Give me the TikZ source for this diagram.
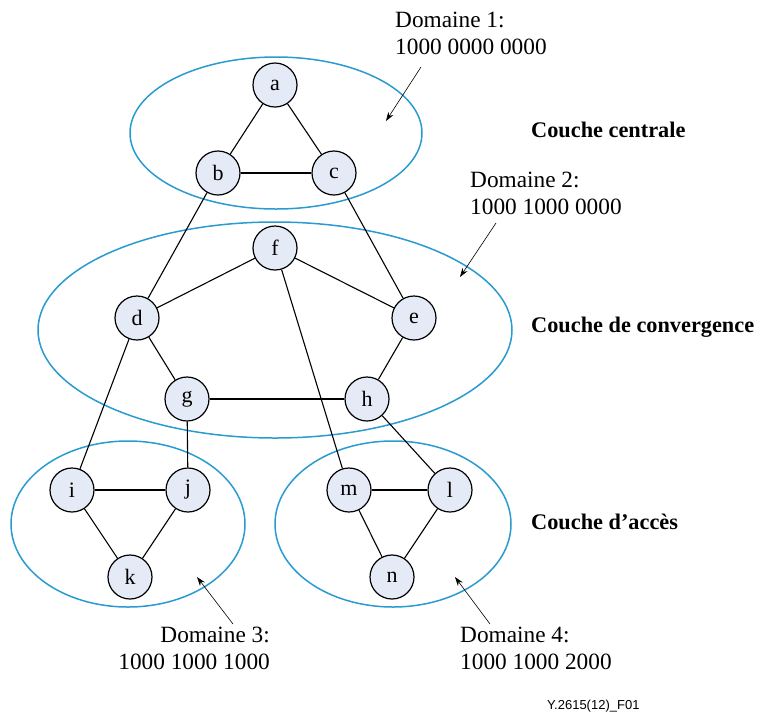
\documentclass[tikz,border=0pt]{standalone}
\usepackage{fontspec}
\setmainfont{Liberation Serif}
\setsansfont{Liberation Sans}
\usetikzlibrary{arrows.meta}
\definecolor{domline}{HTML}{2A9BD1}
\definecolor{nodefill}{HTML}{E5EBF6}
\tikzset{
  vertex/.style={circle, draw=black, line width=1.2pt, fill=nodefill,
    minimum size=44pt, inner sep=0pt, font=\fontsize{22}{26}\selectfont},
  zone/.style={draw=domline, line width=1.5pt, fill=white},
  link/.style={draw=black, line width=1.1pt},
  pointer/.style={draw=black, line width=0.6pt, -{Stealth[length=9pt,width=6pt]}},
  caption/.style={font=\fontsize{23.3}{27}\selectfont, inner sep=0pt},
  layer/.style={font=\bfseries\fontsize{22.3}{26}\selectfont, anchor=west, inner sep=0pt},
}
\begin{document}
\begin{tikzpicture}[x=1pt,y=-1pt]
\useasboundingbox (0,0) rectangle (761,716);

% domain outlines
\draw[zone] (276,133) ellipse [x radius=146, y radius=76];
\draw[zone] (275,330) ellipse [x radius=237, y radius=108];
\draw[zone] (128,524) ellipse [x radius=117, y radius=83];
\draw[zone] (393,524) ellipse [x radius=118, y radius=83];

% routers
\node[vertex] (a) at (275,85) {a};
\node[vertex] (b) at (218,173) {b};
\node[vertex] (c) at (334,173) {c};
\node[vertex] (f) at (275,248) {f};
\node[vertex] (d) at (137,318) {d};
\node[vertex] (e) at (414,318) {e};
\node[vertex] (g) at (187,399) {g};
\node[vertex] (h) at (367,399) {h};
\node[vertex] (i) at (72,490) {i};
\node[vertex] (j) at (188,490) {j};
\node[vertex] (k) at (130,577) {k};
\node[vertex] (m) at (349,490) {m};
\node[vertex] (l) at (450,490) {l};
\node[vertex] (n) at (392,577) {n};

% links
\draw[link] (a) -- (b);
\draw[link] (a) -- (c);
\draw[link] (b) -- (c);
\draw[link] (b) -- (d);
\draw[link] (c) -- (e);
\draw[link] (d) -- (f);
\draw[link] (f) -- (e);
\draw[link] (d) -- (g);
\draw[link] (e) -- (h);
\draw[link] (g) -- (h);
\draw[link] (d) -- (i);
\draw[link] (g) -- (j);
\draw[link] (f) -- (m);
\draw[link] (h) -- (l);
\draw[link] (i) -- (j);
\draw[link] (i) -- (k);
\draw[link] (j) -- (k);
\draw[link] (m) -- (l);
\draw[link] (m) -- (n);
\draw[link] (l) -- (n);

% domain captions
\node[caption, anchor=north west, align=left] (t1) at (395,12) {Domaine 1:\\1000 0000 0000};
\node[caption, anchor=north west, align=left] (t2) at (470,172) {Domaine 2:\\1000 1000 0000};
\node[caption, anchor=north east, align=right] (t3) at (270,627) {Domaine 3:\\1000 1000 1000};
\node[caption, anchor=north west, align=left] (t4) at (460,627) {Domaine 4:\\1000 1000 2000};

\coordinate (p1s) at (421,67);  \coordinate (p1e) at (386,121);
\coordinate (p2s) at (496,223); \coordinate (p2e) at (460,277);
\coordinate (p3s) at (233,624); \coordinate (p3e) at (197,577);
\coordinate (p4s) at (490,624); \coordinate (p4e) at (455,577);
\draw[pointer] (p1s) -- (p1e);
\draw[pointer] (p2s) -- (p2e);
\draw[pointer] (p3s) -- (p3e);
\draw[pointer] (p4s) -- (p4e);

% layer names
\node[layer] (l1) at (531,130) {Couche centrale};
\node[layer] (l2) at (531,327) {Couche de convergence};
\node[layer] (l3) at (531,522) {Couche d’accès};

\node[font=\sffamily\fontsize{13}{15}\selectfont, anchor=west, inner sep=0pt] (ref) at (547,706) {Y.2615(12)\_F01};
\end{tikzpicture}
\end{document}
